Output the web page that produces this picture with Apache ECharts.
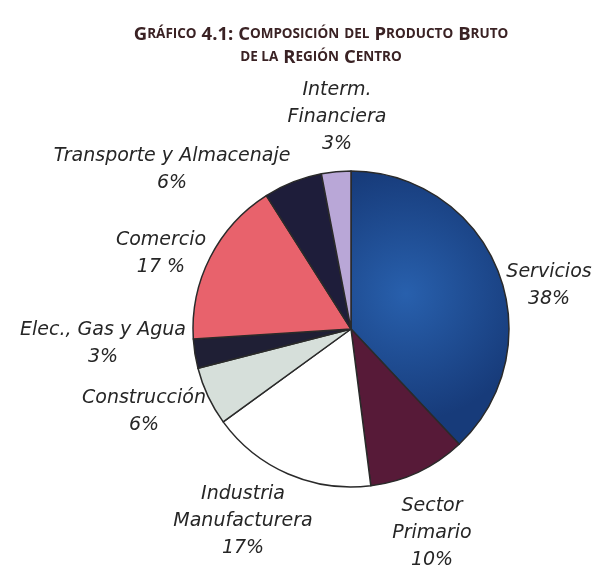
<!DOCTYPE html>
<html><head><meta charset="utf-8">
<script src="https://cdn.jsdelivr.net/npm/echarts@6/dist/echarts.min.js"></script>
<style>html,body{margin:0;padding:0;background:#fff}#c{width:596px;height:569px}</style>
</head><body><div id="c"></div>
<script>
const categories = ['Servicios','Sector\nPrimario','Industria\nManufacturera','Construcción','Elec., Gas y Agua','Comercio','Transporte y Almacenaje','Interm.\nFinanciera'];
const values = [38, 10, 17, 6, 3, 17, 6, 3];
const valueText = ['38%','10%','17%','6%','3%','17 %','6%','3%'];
const colors = ['#1f54a0','#571a38','#ffffff','#d6dfda','#1f1f35','#e8626c','#1e1d3a','#b9a7d7'];
const labelPos = [[549,286],[432,533],[243,521],[144,412],[103,344],[161,254],[172,170],[337,117]];

const chart = echarts.init(document.getElementById('c'));
const data = categories.map((n,i)=>({
  name:n, value:values[i],
  itemStyle:{color: i===0 ? {type:'radial',x:0.35,y:0.45,r:0.8,colorStops:[{offset:0,color:'#2860ad'},{offset:1,color:'#173b7a'}]} : colors[i]}
}));
const big = {fontSize:18.5,fontWeight:'bold',fontFamily:'Open Sans',color:'#3a2224'};
const sm = {fontSize:13.5,fontWeight:'bold',fontFamily:'Open Sans',color:'#3a2224'};
chart.setOption({
  animation:false,
  title:{
    text:'{a|G}{b|RÁFICO} {a|4.1: C}{b|OMPOSICIÓN} {b|DEL} {a|P}{b|RODUCTO} {a|B}{b|RUTO}\n{b|DE LA} {a|R}{b|EGIÓN} {a|C}{b|ENTRO}',
    left:316, top:18, textAlign:'center',
    textStyle:{lineHeight:23, rich:{a:Object.assign({lineHeight:23},big), b:Object.assign({lineHeight:23},sm)}}
  },
  series:[{
    type:'pie',
    center:[351,329], radius:158,
    startAngle:90, clockwise:true,
    data:data,
    itemStyle:{borderColor:'#2a2a2a',borderWidth:1.5},
    label:{
      show:true,
      formatter:p=>p.name+'\n'+valueText[p.dataIndex],
      fontFamily:'DejaVu Sans', fontStyle:'italic', fontSize:19, color:'#262626',
      lineHeight:27, align:'center', verticalAlign:'middle', overflow:'none', width:300
    },
    labelLine:{show:false},
    labelLayout:function(p){
      const q = labelPos[p.dataIndex];
      return {x:q[0], y:q[1], align:'center', verticalAlign:'middle'};
    },
    emphasis:{disabled:true}
  }]
});
</script></body></html>
